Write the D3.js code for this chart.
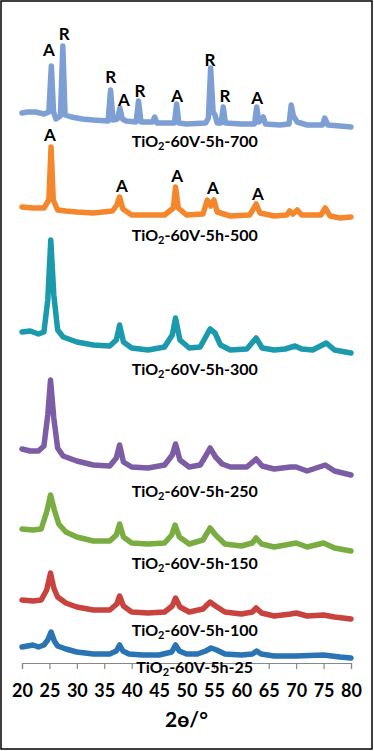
<!DOCTYPE html>
<html>
<head>
<meta charset="utf-8">
<script src="https://cdn.jsdelivr.net/npm/d3@7"></script>
<style>
  html, body { margin: 0; padding: 0; background: #fff; }
  svg { display: block; font-family: Lato, "Open Sans", "DejaVu Sans", sans-serif; }
</style>
</head>
<body>
<div id="chart"></div>
<script>
// Sample names (annealing temperature), from top to bottom
const samples = ['700', '500', '300', '250', '150', '100', '25'];
const colors = ['#7e9fd3', '#f4862c', '#1c9aad', '#7c5ca5', '#79ad41', '#c9433e', '#2a73b5'];
// vertical stacking offset of each pattern (a.u.)
const offsets = [490, 430, 300, 185, 110, 40, 0];
// where each sample name sits, relative to its own offset (a.u.)
const nameLevels = [26, -8, -12, -19, -16, -13, -10];
const xTicks = [20, 25, 30, 35, 40, 45, 50, 55, 60, 65, 70, 75, 80];

// [2theta, intensity a.u.]
const xrd700 = [[20, 60], [21, 61], [22.5, 61], [24, 59], [24.9, 61], [25.35, 107], [25.75, 61], [26.2, 54], [27.0, 57], [27.45, 127], [27.85, 58],
  [29, 56], [31, 54], [33, 53], [35.7, 52], [36.15, 83], [36.6, 53], [37.4, 54], [37.85, 65], [38.3, 54], [39, 52], [40.8, 51], [41.25, 72],
  [41.7, 51], [43.8, 51], [44.2, 56], [44.6, 50], [47.8, 50], [48.2, 69], [48.6, 50], [50, 49], [53.5, 50], [54.0, 55], [54.4, 105],
  [54.85, 61], [55.2, 58], [55.6, 50], [56.3, 50], [56.7, 66], [57.1, 50], [60, 49], [62.4, 49], [62.8, 66], [63.2, 51], [63.6, 53],
  [64.0, 56], [64.4, 49], [67, 48], [68.7, 49], [69.1, 68], [69.5, 57], [70.2, 51], [72, 48], [74.8, 48], [75.2, 55], [75.8, 48],
  [78, 47], [80, 46]];
const xrd500 = [[20, 26], [22, 25], [24, 25], [24.9, 33], [25.3, 86], [25.7, 33], [26.5, 23], [28, 22], [30, 21], [33, 20], [36.5, 22],
  [37.3, 28], [37.8, 36], [38.4, 24], [40, 18], [43, 18], [46, 18], [47.6, 25], [48.0, 46], [48.5, 25], [50, 18], [53, 19], [53.8, 33],
  [54.4, 27], [55.0, 33], [55.6, 21], [58, 17], [61.5, 18], [62.1, 23], [62.7, 29], [63.4, 20], [66, 17], [68.3, 18], [68.8, 22],
  [69.4, 19], [70.2, 23], [71, 18], [74.5, 18], [75.3, 25], [76.2, 17], [78, 15], [80, 16]];
const xrd300 = [[20, 31], [21.5, 32], [23, 29], [24, 31], [24.7, 63], [25.25, 123], [25.8, 68], [26.5, 33], [27.5, 26], [30, 21], [33, 18],
  [36, 17], [37.2, 23], [37.8, 38], [38.5, 21], [40, 15], [43, 13], [46, 16], [47.4, 28], [48.0, 45], [48.8, 23], [50.5, 15], [52.5, 16],
  [53.5, 26], [54.3, 34], [55.2, 30], [56.2, 18], [58, 13], [61, 14], [62.7, 25], [63.8, 15], [66, 13], [68, 14], [69.8, 17], [71, 14],
  [73, 13], [75.5, 20], [77, 13], [80, 10]];
const xrd250 = [[20, 29], [21.5, 27], [23, 27], [24, 32], [24.7, 63], [25.2, 98], [25.8, 60], [26.5, 30], [27.5, 22], [30, 17], [33, 13],
  [36, 12], [37.2, 20], [37.8, 33], [38.5, 16], [40, 11], [43, 10], [46, 13], [47.4, 23], [48.0, 34], [48.8, 18], [50.5, 11], [52.5, 13],
  [53.6, 23], [54.3, 30], [55.3, 21], [56.5, 14], [58, 11], [61, 11], [62.7, 19], [63.8, 12], [66, 9], [69, 11], [70, 11], [72, 7],
  [75.3, 13], [77, 7], [80, 3]];
const xrd150 = [[20, 24], [22, 23], [23.5, 24], [24.5, 41], [25.2, 58], [25.9, 43], [26.7, 29], [28, 21], [30, 16], [33, 12], [36, 12],
  [37.2, 18], [37.8, 29], [38.5, 16], [40, 10], [43, 9], [46, 10], [47.3, 18], [47.9, 28], [48.7, 16], [50.5, 9], [53, 13], [54.3, 25],
  [55.3, 18], [57, 9], [60, 7], [62, 10], [62.7, 15], [63.7, 9], [66, 6], [69, 9], [70, 10], [72, 6], [75, 10], [77, 5], [80, 2]];
const xrd100 = [[20, 23], [22, 22], [23.5, 23], [24.5, 33], [25.2, 50], [25.8, 35], [26.5, 26], [28, 20], [30, 16], [33, 13], [36, 13],
  [37.3, 19], [37.8, 27], [38.5, 17], [40, 11], [43, 10], [46, 11], [47.4, 17], [48.0, 25], [48.8, 16], [50.5, 11], [53, 14], [54.3, 21],
  [55.3, 17], [57, 11], [60, 9], [62, 11], [62.7, 15], [63.7, 10], [66, 7], [69, 9], [70, 10], [72, 7], [75, 8], [77, 6], [80, 4]];
const xrd25 = [[20, 16], [21, 17], [22, 18], [23, 16], [24, 18], [24.7, 23], [25.3, 31], [25.9, 22], [26.5, 17], [28, 14], [30, 11],
  [33, 9], [36, 9], [37.2, 12], [37.8, 18], [38.4, 12], [39.5, 9], [42, 8], [45, 8], [47.3, 11], [48.0, 18], [48.7, 12], [50, 9],
  [52, 9], [53.5, 12], [54.5, 15], [55.5, 13], [57, 9], [60, 8], [62, 9], [62.8, 12], [63.6, 9], [66, 7], [70, 7], [75, 8], [78, 6],
  [80, 5]];
const patterns = [xrd700, xrd500, xrd300, xrd250, xrd150, xrd100, xrd25];

// phase marks: A = anatase, R = rutile  [2theta, level a.u., phase]
const marks700 = [[24.9, 117, 'A'], [27.7, 133, 'R'], [36.2, 90, 'R'], [38.6, 67, 'A'], [41.5, 76, 'R'],
  [48.3, 71, 'A'], [54.3, 107, 'R'], [57.0, 71, 'R'], [62.9, 69, 'A']];
const marks500 = [[25.1, 92, 'A'], [38.2, 41, 'A'], [48.3, 51, 'A'], [54.8, 39, 'A'], [63.0, 33, 'A']];
const marks = [marks700, marks500, [], [], [], [], []];

const W = 374, H = 751;
const margin = { top: 23, right: 23, bottom: 88, left: 22 };

const svg = d3.select('#chart').append('svg')
  .attr('width', W)
  .attr('height', H);

// frame round the whole picture
svg.append('rect')
  .attr('x', 1).attr('y', 1)
  .attr('width', W - 3).attr('height', H - 3)
  .attr('fill', 'none')
  .attr('stroke', '#000')
  .attr('stroke-width', 1.5);

const x = d3.scaleLinear().domain([20, 80]).range([margin.left, W - margin.right]);
const y = d3.scaleLinear().domain([0, 640]).range([H - margin.bottom, margin.top]);

const line = d3.line()
  .x(d => x(d[0]))
  .y(d => y(d[1]));

// x axis (drawn first so the lowest name can sit over the ticks)
const axis = svg.append('g')
  .attr('transform', `translate(0,${H - margin.bottom})`)
  .call(d3.axisBottom(x).tickValues(xTicks).tickSize(6).tickPadding(15));
axis.select('.domain').attr('stroke', '#888').attr('stroke-width', 1.2);
axis.selectAll('.tick line').attr('stroke', '#888').attr('stroke-width', 1.2);
axis.selectAll('.tick text')
  .attr('fill', '#000')
  .style('font-size', '18px')
  .style('font-weight', 'bold')
  .style('font-family', 'Lato, "Open Sans", sans-serif');

samples.forEach((s, i) => {
  const g = svg.append('g').attr('class', 'pattern');
  g.append('path')
    .datum(patterns[i].map(d => [d[0], d[1] + offsets[i]]))
    .attr('d', line)
    .attr('fill', 'none')
    .attr('stroke', colors[i])
    .attr('stroke-width', 5.5)
    .attr('stroke-linejoin', 'round')
    .attr('stroke-linecap', 'round');

  g.selectAll('.mark').data(marks[i]).enter().append('text')
    .attr('class', 'mark')
    .attr('x', d => x(d[0]))
    .attr('y', d => y(d[1] + offsets[i]))
    .attr('text-anchor', 'middle')
    .style('font-size', '17px')
    .style('font-weight', 'bold')
    .text(d => d[2]);

  const name = g.append('text')
    .attr('x', x(51.5))
    .attr('y', y(nameLevels[i] + offsets[i]))
    .attr('text-anchor', 'middle')
    .style('font-size', '16px')
    .style('font-weight', 'bold');
  name.append('tspan').text('TiO');
  name.append('tspan').attr('dy', 3).style('font-size', '11px').text('2');
  name.append('tspan').attr('dy', -3).text('-60V-5h-' + s);
});

svg.append('text')
  .attr('x', (x(20) + x(80)) / 2)
  .attr('y', 727)
  .attr('text-anchor', 'middle')
  .style('font-size', '21px')
  .style('font-weight', 'bold')
  .text('2ө/°');
</script>
</body>
</html>
